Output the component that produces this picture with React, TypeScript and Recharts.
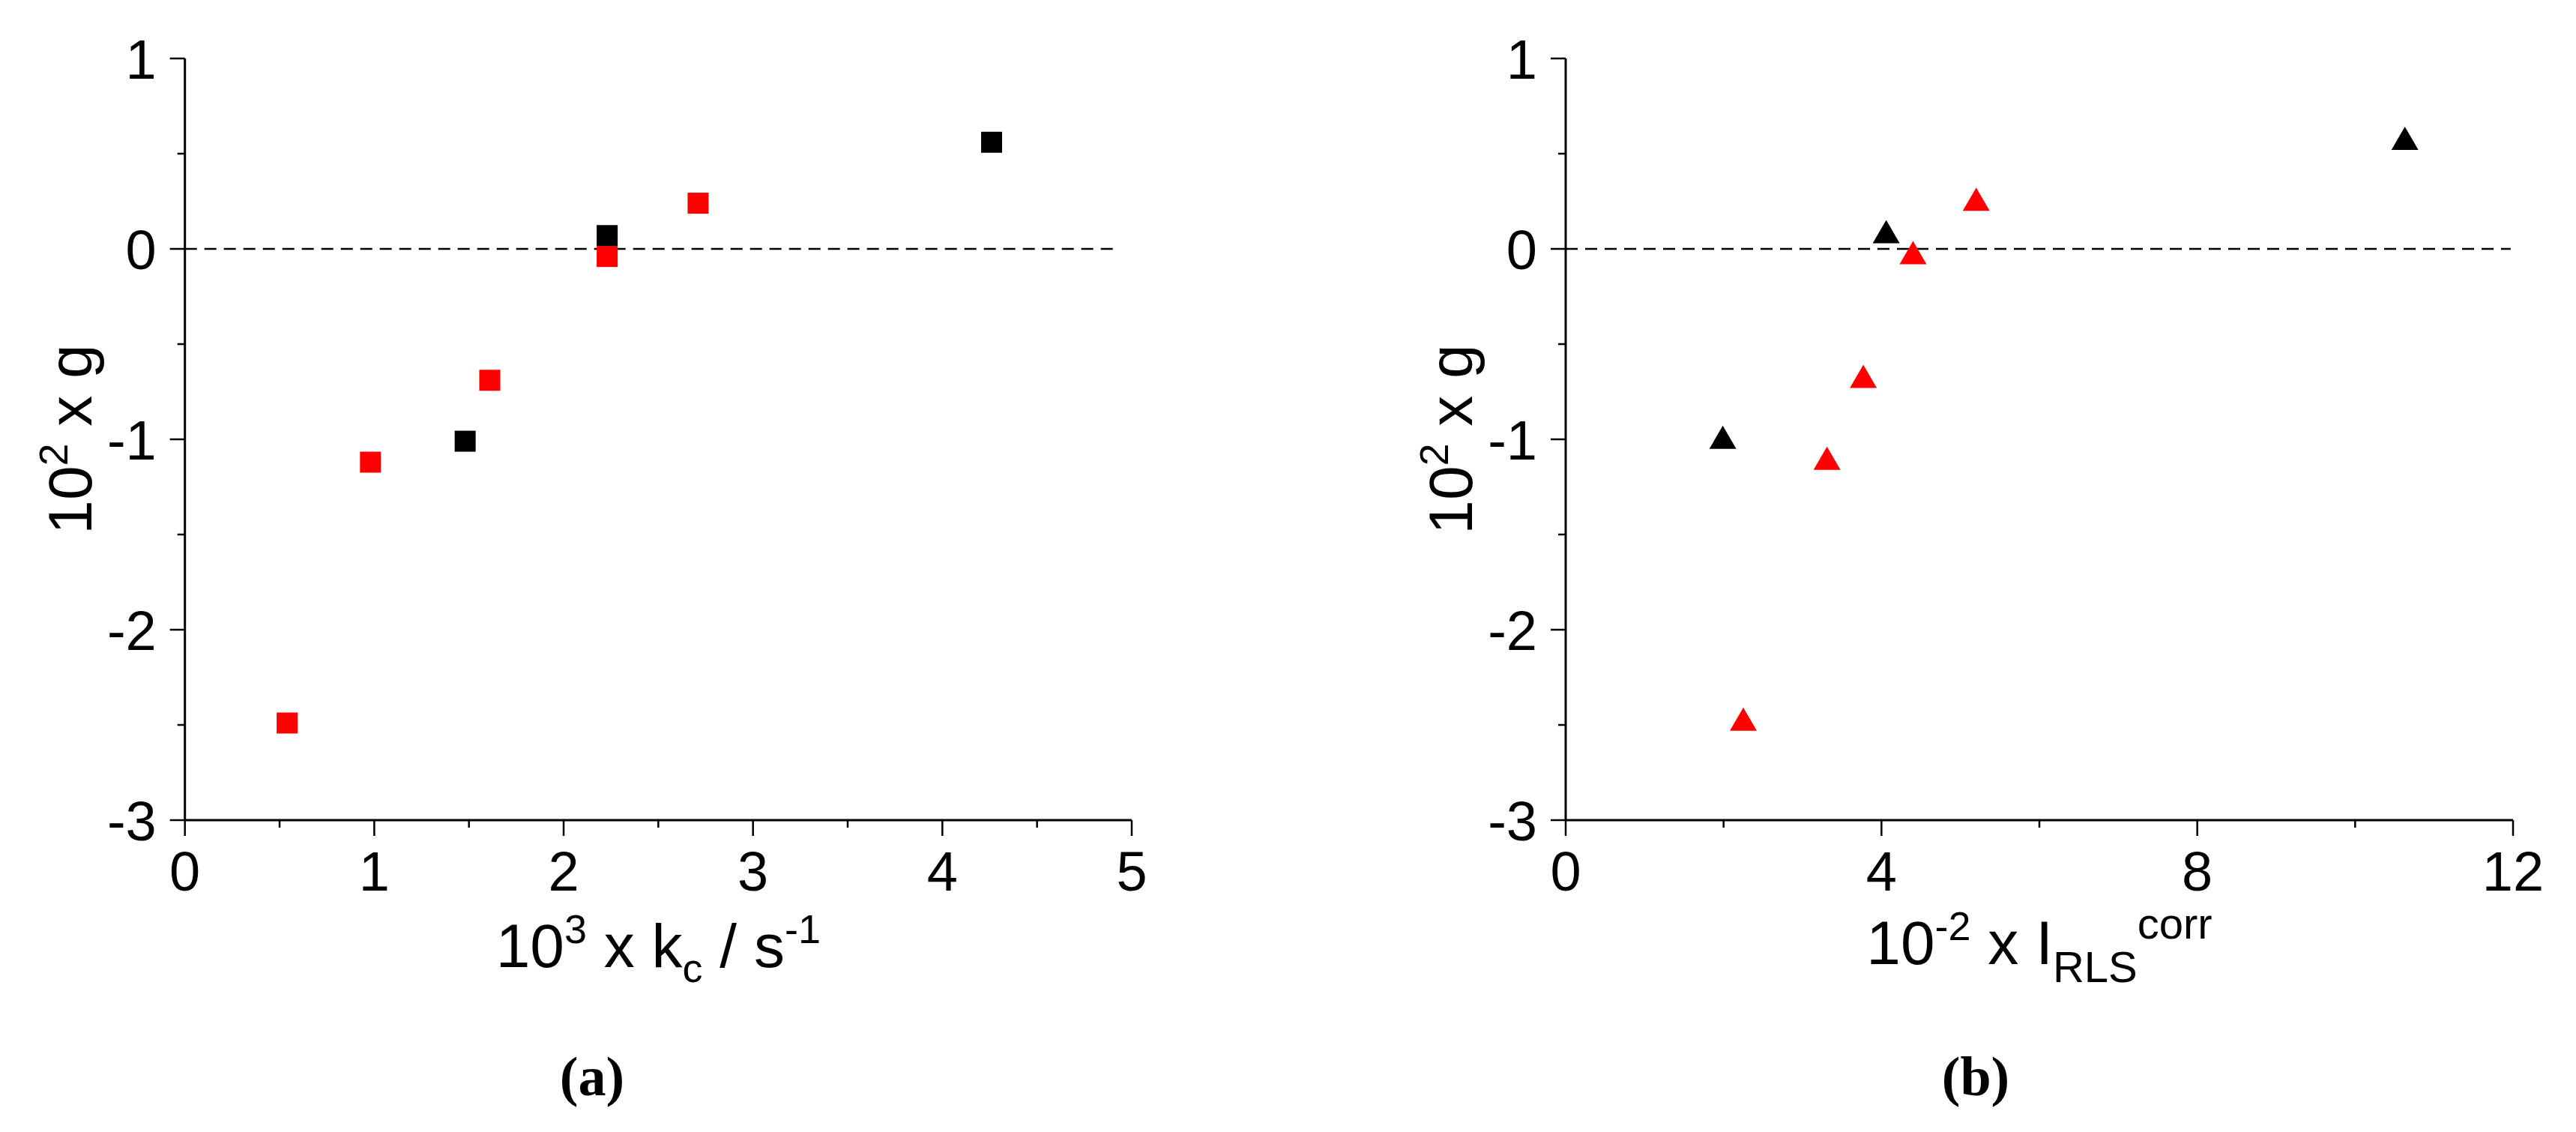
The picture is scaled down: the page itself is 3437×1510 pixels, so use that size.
import React from 'react';
import { ScatterChart, Scatter, XAxis, YAxis, ReferenceLine, Label } from 'recharts';

// panel (a): 10^3 x kc / s^-1
const KC_BLACK = [4.26, 2.23, 1.48];
const KC_RED = [2.71, 2.23, 1.61, 0.98, 0.54];
// panel (b): 10^-2 x I_RLS^corr
const IRLS_BLACK = [10.63, 4.06, 1.99];
const IRLS_RED = [5.2, 4.4, 3.77, 3.31, 2.25];
// 10^2 x g, shared by both panels
const G_BLACK = [0.56, 0.07, -1.01];
const G_RED = [0.24, -0.04, -0.69, -1.12, -2.49];

const X_TICKS_A = [0, 0.5, 1, 1.5, 2, 2.5, 3, 3.5, 4, 4.5, 5];
const X_TICKS_B = [0, 2, 4, 6, 8, 10, 12];
const Y_TICKS = [-3, -2.5, -2, -1.5, -1, -0.5, 0, 0.5, 1];
const DASH_END_A = 4.9;
const DASH_END_B = 11.97;

const FONT = '"Liberation Sans", Arial, sans-serif';
const TITLE_SIZE = 82;
const SMALL_SIZE = 54;
const TICK_SIZE = 20;
const TICK_MARGIN = 10;
const Y_AXIS_W = 150;
const X_AXIS_H = 100;

const pts = (xs: number[], ys: number[]) => xs.map((x, i) => ({ x, y: ys[i] }));

const SquareMark = (props: any) => {
  const { cx, cy, fill } = props;
  const s = 28;
  return <rect x={cx - s / 2} y={cy - s / 2} width={s} height={s} fill={fill} />;
};

const TriangleMark = (props: any) => {
  const { cx, cy, fill } = props;
  const w = 36;
  const h = 31;
  // centred on the centroid
  const top = cy - (2 * h) / 3;
  const bot = cy + h / 3;
  return <path d={`M${cx},${top} L${cx + w / 2},${bot} L${cx - w / 2},${bot} Z`} fill={fill} />;
};

const XTick = (props: any) => {
  const { x, y, payload, isMajor } = props;
  const v = payload.value;
  const major = isMajor(v);
  const axisY = y - TICK_MARGIN - TICK_SIZE;
  return (
    <g>
      <line x1={x} x2={x} y1={axisY} y2={axisY + (major ? 21 : 10)} stroke="#000" strokeWidth={2.5} />
      {major && (
        <text x={x} y={axisY + 94} textAnchor="middle" fontSize={74} fontFamily={FONT} fill="#000">
          {v}
        </text>
      )}
    </g>
  );
};

const YTick = (props: any) => {
  const { x, y, payload } = props;
  const v = payload.value;
  const major = Number.isInteger(v);
  const axisX = x + TICK_MARGIN + TICK_SIZE;
  return (
    <g>
      <line x1={axisX} x2={axisX - (major ? 20 : 10)} y1={y} y2={y} stroke="#000" strokeWidth={2.5} />
      {major && (
        <text x={axisX - 38} y={y + 26.5} textAnchor="end" fontSize={74} fontFamily={FONT} fill="#000">
          {v}
        </text>
      )}
    </g>
  );
};

const YTitle = (props: any) => {
  const vb = props.viewBox || {};
  const bx = vb.x + vb.width - 125;
  const cy = vb.y + vb.height / 2;
  return (
    <text transform={`translate(${bx}, ${cy}) rotate(-90)`} x={0} y={0} textAnchor="middle" fontSize={TITLE_SIZE} fontFamily={FONT} fill="#000">
      10<tspan dy={-32} fontSize={SMALL_SIZE}>2</tspan>
      <tspan dy={32}>{' x g'}</tspan>
    </text>
  );
};

const XTitleA = (props: any) => {
  const vb = props.viewBox || {};
  const cx = vb.x + vb.width / 2;
  const by = vb.y + 196;
  return (
    <text x={cx} y={by} textAnchor="middle" fontSize={TITLE_SIZE} fontFamily={FONT} fill="#000" xmlSpace="preserve">
      10<tspan dy={-32} fontSize={SMALL_SIZE}>3</tspan>
      <tspan dy={32}>{' x k'}</tspan>
      <tspan dy={20} fontSize={SMALL_SIZE}>c</tspan>
      <tspan dy={-20}>{' / s'}</tspan>
      <tspan dy={-32} fontSize={SMALL_SIZE}>-1</tspan>
    </text>
  );
};

const XTitleB = (props: any) => {
  const vb = props.viewBox || {};
  const cx = vb.x + vb.width / 2;
  const by = vb.y + 192;
  return (
    <text x={cx} y={by} textAnchor="middle" fontSize={TITLE_SIZE} fontFamily={FONT} fill="#000" xmlSpace="preserve">
      10<tspan dy={-32} fontSize={SMALL_SIZE}>-2</tspan>
      <tspan dy={32}>{' x I'}</tspan>
      <tspan dy={24} fontSize={SMALL_SIZE + 4}>RLS</tspan>
      <tspan dy={-58} fontSize={SMALL_SIZE + 4}>corr</tspan>
    </text>
  );
};

const axisLine = { stroke: '#000', strokeWidth: 3 };

export default function App() {
  const blackA = pts(KC_BLACK, G_BLACK);
  const redA = pts(KC_RED, G_RED);
  const blackB = pts(IRLS_BLACK, G_BLACK);
  const redB = pts(IRLS_RED, G_RED);

  return (
    <div style={{ position: 'relative', width: 3437, height: 1510, background: '#fff', overflow: 'hidden' }}>
      <style>{'body{margin:0}'}</style>

      <div style={{ position: 'absolute', left: 0, top: 0 }}>
        <ScatterChart width={1700} height={1510} margin={{ top: 78, right: 190, bottom: 1510 - 1094 - X_AXIS_H, left: 246.7 - Y_AXIS_W }}>
          <XAxis
            type="number"
            dataKey="x"
            domain={[0, 5]}
            ticks={X_TICKS_A}
            interval={0}
            height={X_AXIS_H}
            tickSize={TICK_SIZE}
            tickMargin={TICK_MARGIN}
            tickLine={false}
            axisLine={axisLine}
            tick={(p: any) => <XTick {...p} isMajor={(v: number) => Number.isInteger(v)} />}
          >
            <Label content={XTitleA} />
          </XAxis>
          <YAxis
            type="number"
            dataKey="y"
            domain={[-3, 1]}
            ticks={Y_TICKS}
            interval={0}
            width={Y_AXIS_W}
            tickSize={TICK_SIZE}
            tickMargin={TICK_MARGIN}
            tickLine={false}
            axisLine={axisLine}
            tick={(p: any) => <YTick {...p} />}
          >
            <Label content={YTitle} />
          </YAxis>
          <ReferenceLine segment={[{ x: 0, y: 0 }, { x: DASH_END_A, y: 0 }]} stroke="#000" strokeWidth={2.5} strokeDasharray="16 10" />
          <Scatter data={redA} fill="#ff0000" shape={(p: any) => <SquareMark {...p} />} isAnimationActive={false} />
          <Scatter data={blackA} fill="#000000" shape={(p: any) => <SquareMark {...p} />} isAnimationActive={false} />
        </ScatterChart>
      </div>

      <div style={{ position: 'absolute', left: 1700, top: 0 }}>
        <ScatterChart width={1737} height={1510} margin={{ top: 78, right: 1737 - 1653, bottom: 1510 - 1094 - X_AXIS_H, left: 389 - Y_AXIS_W }}>
          <XAxis
            type="number"
            dataKey="x"
            domain={[0, 12]}
            ticks={X_TICKS_B}
            interval={0}
            height={X_AXIS_H}
            tickSize={TICK_SIZE}
            tickMargin={TICK_MARGIN}
            tickLine={false}
            axisLine={axisLine}
            tick={(p: any) => <XTick {...p} isMajor={(v: number) => v % 4 === 0} />}
          >
            <Label content={XTitleB} />
          </XAxis>
          <YAxis
            type="number"
            dataKey="y"
            domain={[-3, 1]}
            ticks={Y_TICKS}
            interval={0}
            width={Y_AXIS_W}
            tickSize={TICK_SIZE}
            tickMargin={TICK_MARGIN}
            tickLine={false}
            axisLine={axisLine}
            tick={(p: any) => <YTick {...p} />}
          >
            <Label content={YTitle} />
          </YAxis>
          <ReferenceLine segment={[{ x: 0, y: 0 }, { x: DASH_END_B, y: 0 }]} stroke="#000" strokeWidth={2.5} strokeDasharray="16 10" />
          <Scatter data={redB} fill="#ff0000" shape={(p: any) => <TriangleMark {...p} />} isAnimationActive={false} />
          <Scatter data={blackB} fill="#000000" shape={(p: any) => <TriangleMark {...p} />} isAnimationActive={false} />
        </ScatterChart>
      </div>

      <svg width={3437} height={1510} style={{ position: 'absolute', left: 0, top: 0, pointerEvents: 'none' }}>
        <text x={790} y={1461} textAnchor="middle" fontSize={74} fontWeight="bold" fontFamily='"Liberation Serif", "Times New Roman", serif' fill="#000">
          (a)
        </text>
        <text x={2636} y={1461} textAnchor="middle" fontSize={74} fontWeight="bold" fontFamily='"Liberation Serif", "Times New Roman", serif' fill="#000">
          (b)
        </text>
      </svg>
    </div>
  );
}
